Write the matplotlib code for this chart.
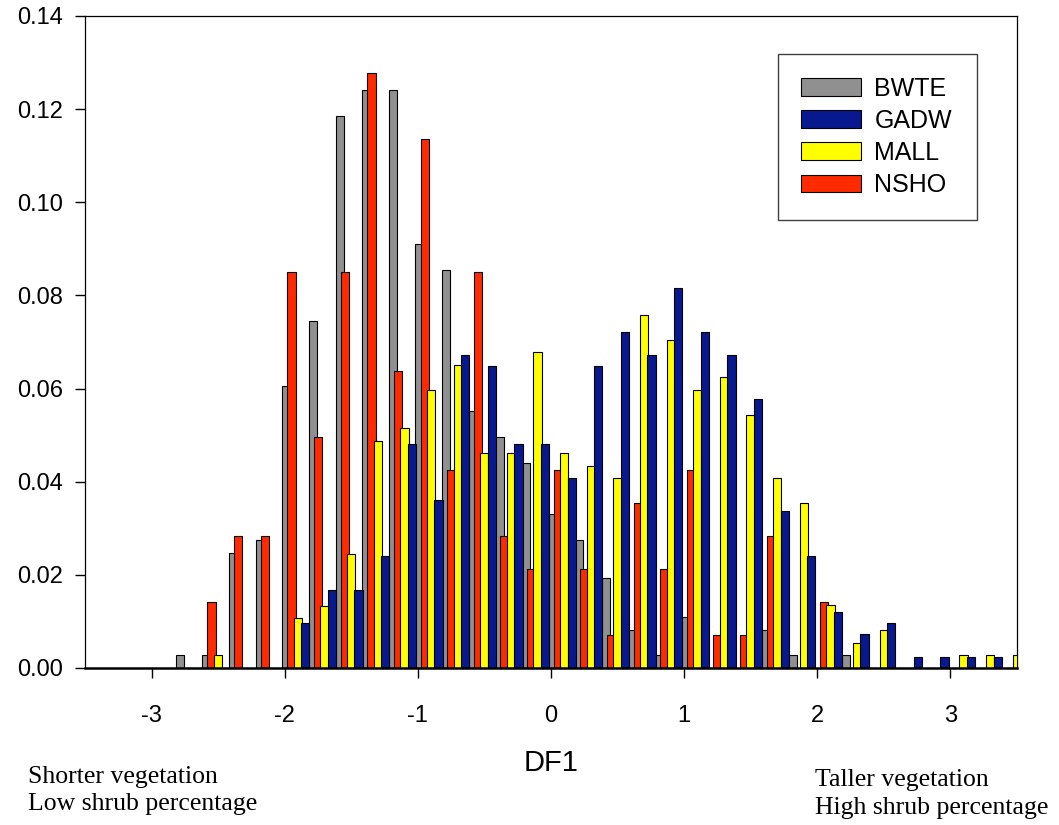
import numpy as np
import matplotlib
matplotlib.use('Agg')
import matplotlib.pyplot as plt

plt.rcParams['font.family'] = ['Liberation Sans', 'DejaVu Sans']
plt.rcParams['axes.unicode_minus'] = False

# bin values of DF1 (bin width 0.2)
bins = [-2.8, -2.6, -2.4, -2.2, -2.0, -1.8, -1.6, -1.4, -1.2, -1.0, -0.8, -0.6,
        -0.4, -0.2, 0.0, 0.2, 0.4, 0.6, 0.8, 1.0, 1.2, 1.4, 1.6, 1.8, 2.0, 2.2,
        2.4, 2.6, 2.8, 3.0, 3.2, 3.4]

bwte = [0.0027, 0.0027, 0.0247, 0.0275, 0.0606, 0.0745, 0.1186, 0.1242, 0.1242, 0.0911, 0.0855, 0.0552,
        0.0496, 0.0440, 0.0331, 0.0275, 0.0193, 0.0082, 0.0027, 0.0110, 0.0, 0.0, 0.0082, 0.0027, 0.0, 0.0027,
        0.0, 0.0, 0.0, 0.0, 0.0, 0.0]
gadw = [0.0, 0.0, 0.0, 0.0, 0.0096, 0.0168, 0.0168, 0.0240, 0.0481, 0.0361, 0.0673, 0.0649,
        0.0481, 0.0481, 0.0409, 0.0649, 0.0721, 0.0673, 0.0817, 0.0721, 0.0673, 0.0577, 0.0337, 0.0240, 0.0120, 0.0072,
        0.0096, 0.0024, 0.0024, 0.0024, 0.0024, 0.0]
mall = [0.0, 0.0027, 0.0, 0.0, 0.0108, 0.0134, 0.0245, 0.0488, 0.0515, 0.0597, 0.0651, 0.0461,
        0.0461, 0.0678, 0.0461, 0.0434, 0.0407, 0.0759, 0.0704, 0.0596, 0.0624, 0.0543, 0.0407, 0.0354, 0.0136, 0.0054,
        0.0081, 0.0, 0.0, 0.0027, 0.0027, 0.0027]
nsho = [0.0, 0.0142, 0.0284, 0.0284, 0.0851, 0.0496, 0.0851, 0.1277, 0.0638, 0.1135, 0.0426, 0.0851,
        0.0284, 0.0213, 0.0426, 0.0213, 0.0071, 0.0355, 0.0213, 0.0426, 0.0071, 0.0071, 0.0284, 0.0, 0.0142, 0.0,
        0.0, 0.0, 0.0, 0.0, 0.0, 0.0]

yticks = [0.00, 0.02, 0.04, 0.06, 0.08, 0.10, 0.12, 0.14]
xticks = [-3, -2, -1, 0, 1, 2, 3]

fig = plt.figure(figsize=(10.59, 8.25), dpi=100)
ax = fig.add_axes([85/1059, 1 - 668/825, 932/1059, 652/825])

x = np.array(bins)
w = 0.062
# drawing order: gray, red, yellow, blue (each overlaps the previous one)
series = [
    ('BWTE', bwte, '#909090', 0.013),
    ('NSHO', nsho, '#ff2a00', 0.051),
    ('MALL', mall, '#ffff00', 0.099),
    ('GADW', gadw, '#08198f', 0.155),
]
handles = {}
for i, (name, vals, col, off) in enumerate(series):
    h = ax.bar(x + off, vals, width=w, color=col, edgecolor='black', linewidth=0.8,
               zorder=2 + i, label=name)
    handles[name] = h

ax.set_xlim(-3.5, 3.5)
ax.set_ylim(0, 0.14)
ax.set_xticks(xticks)
ax.set_xticklabels([str(t) for t in xticks])
ax.set_yticks(yticks)
ax.set_yticklabels(['%.2f' % t for t in yticks])
ax.tick_params(axis='both', direction='out', length=7, width=1, labelsize=17)
ax.tick_params(axis='x', pad=20)
ax.tick_params(axis='y', pad=9)

for s in ['top', 'right', 'left']:
    ax.spines[s].set_linewidth(0.9)
ax.spines['bottom'].set_linewidth(1.8)
ax.spines['bottom'].set_zorder(10)

order = ['BWTE', 'GADW', 'MALL', 'NSHO']
leg = ax.legend([handles[n] for n in order], order, loc='upper left',
                bbox_to_anchor=(0.7436, 0.9417, 0.2135, 0.0), mode='expand',
                borderaxespad=0, fontsize=18,
                handlelength=2.4, handleheight=0.72, handletextpad=0.55,
                labelspacing=0.33, borderpad=0.9, fancybox=False, framealpha=1)
leg.get_frame().set_edgecolor('#404040')
leg.get_frame().set_linewidth(1.0)

fig.text(551/1059, 1 - 771/825, 'DF1', ha='center', va='baseline', fontsize=21)

serif = ['Liberation Serif', 'DejaVu Serif']
fig.text(28/1059, 1 - 783/825, 'Shorter vegetation', ha='left', va='baseline',
         fontsize=18.5, family=serif)
fig.text(28/1059, 1 - 810/825, 'Low shrub percentage', ha='left', va='baseline',
         fontsize=18.5, family=serif)
fig.text(815/1059, 1 - 786/825, 'Taller vegetation', ha='left', va='baseline',
         fontsize=18.5, family=serif)
fig.text(815/1059, 1 - 814/825, 'High shrub percentage', ha='left', va='baseline',
         fontsize=18.5, family=serif)

fig.savefig('out.png', dpi=100)
